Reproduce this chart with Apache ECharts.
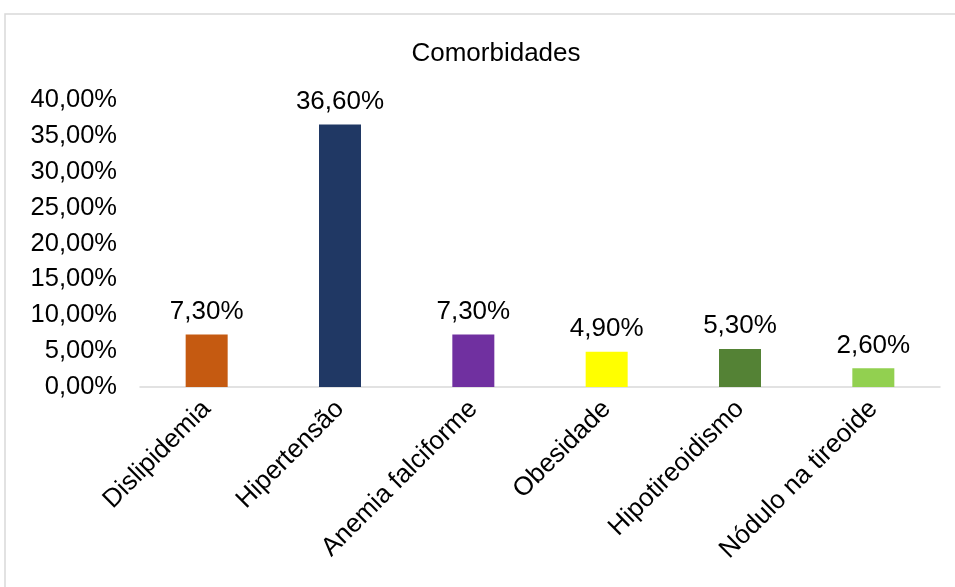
<!DOCTYPE html>
<html><head><meta charset="utf-8">
<script src="https://cdn.jsdelivr.net/npm/echarts@6/dist/echarts.min.js"></script>
<style>html,body{margin:0;padding:0;background:#fff}#c{width:955px;height:587px}</style>
</head><body><div id="c"></div>
<script>
const categories = ['Dislipidemia','Hipertensão','Anemia falciforme','Obesidade','Hipotireoidismo','Nódulo na tireoide'];
const values = [7.3, 36.6, 7.3, 4.9, 5.3, 2.6];
const colors = ['#C55A11','#203864','#7030A0','#FFFF00','#548235','#92D050'];
const titleText = 'Comorbidades';
const fmt = v => v.toFixed(2).replace('.', ',') + '%';
const chart = echarts.init(document.getElementById('c'));
chart.setOption({
  animation: false,
  textStyle: {fontFamily: 'Liberation Sans, Arial, sans-serif'},
  graphic: [{type:'rect', shape:{x:5,y:14,width:960,height:600}, style:{fill:'none', stroke:'#d9d9d9', lineWidth:1.5}, silent:true}],
  title: {text: titleText, left: 491, textAlign: 'center', top: 36, textStyle: {fontSize: 26, fontWeight: 'normal', color: '#000', fontFamily: 'Liberation Sans, Arial, sans-serif'}},
  grid: {left: 140, right: 15, top: 100, bottom: 200},
  xAxis: {type: 'category', data: categories,
    axisLine: {lineStyle: {color: '#d9d9d9', width: 1.5}}, axisTick: {show: false},
    axisLabel: {rotate: 45, fontSize: 26, color: '#000', interval: 0, margin: 18}},
  yAxis: {type: 'value', min: 0, max: 40, interval: 5,
    axisLine: {show: false}, axisTick: {show: false}, splitLine: {show: false},
    axisLabel: {fontSize: 25.5, color: '#000', margin: 23, formatter: v => fmt(v)}},
  series: [{type: 'bar', barWidth: 42,
    data: values.map((v, i) => ({value: v, itemStyle: {color: colors[i]}})),
    label: {show: true, position: 'top', distance: 10, fontSize: 26, color: '#000', formatter: p => fmt(p.value)}}]
});
</script></body></html>
